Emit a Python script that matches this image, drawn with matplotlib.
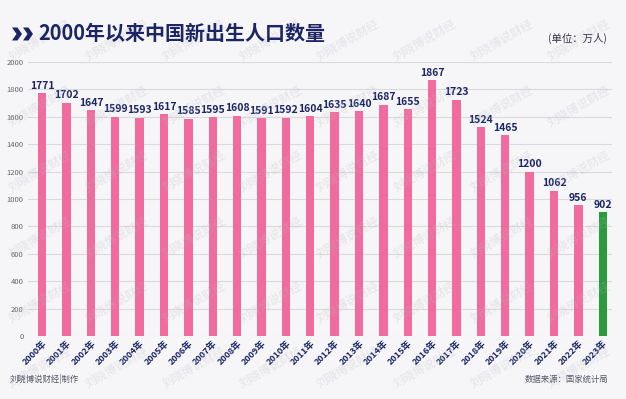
import matplotlib
matplotlib.use("Agg")
import matplotlib.pyplot as plt
from matplotlib.patches import Polygon
import numpy as np

years = [f"{y}年" for y in range(2000, 2024)]
births = [1771, 1702, 1647, 1599, 1593, 1617, 1585, 1595, 1608, 1591, 1592, 1604,
          1635, 1640, 1687, 1655, 1867, 1723, 1524, 1465, 1200, 1062, 956, 902]
yticks = list(range(0, 2001, 200))

title = "2000年以来中国新出生人口数量"
unit = "(单位：万人)"
footer_left = "刘晓博说财经|制作"
footer_right = "数据来源：国家统计局"
watermark = "刘晓博说财经"

plt.rcParams['font.family'] = ['Noto Sans CJK SC', 'DejaVu Sans']

navy = "#1c2566"
pink = "#f26b9e"
green = "#2a9a3a"
bg = "#f6f6f8"

W, H = 626, 399
fig = plt.figure(figsize=(6.26, 3.99), dpi=100, facecolor=bg)

# watermarks (kept inside the figure)
xs = np.linspace(0.01, 0.87, 8)
ys = np.linspace(0.02, 0.84, 6)
for r, fy in enumerate(ys):
    for c, fx in enumerate(xs):
        fig.text(fx, fy, watermark, fontsize=8.5, color="#b8b8c4", alpha=0.3,
                 rotation=30, ha='left', va='bottom', zorder=0)

ax = fig.add_axes([28/W, 1-336/H, (612-28)/W, (336-62)/H])
ax.patch.set_alpha(0)

x = np.arange(len(births))
colors = [pink]*(len(births)-1) + [green]
ax.bar(x, births, width=0.34, color=colors, zorder=3)

for xi, v in zip(x, births):
    ax.text(xi, v + 18, str(v), ha='center', va='bottom', fontsize=7.5,
            fontweight='bold', color=navy, zorder=4)

ax.set_xlim(-0.58, 23.38)
ax.set_ylim(0, 2000)
ax.set_yticks(yticks)
ax.set_yticklabels([str(t) for t in yticks], fontsize=5.5, color="#666666")
ax.set_xticks(x)
ax.set_xticklabels(years, rotation=45, ha='right', va='top', rotation_mode='anchor',
                   fontsize=6.5, fontweight='bold', color=navy)
ax.tick_params(axis='both', length=0, pad=2)
ax.tick_params(axis='y', pad=3)
ax.grid(axis='y', color="#d9d9de", linewidth=0.8, zorder=0)
for s in ax.spines.values():
    s.set_visible(False)

# title chevron icon (two filled chevrons)
def chevron(x0, yc, w=10, h=13, t=5.5):
    pts = [(x0, yc + h/2), (x0 + t, yc + h/2), (x0 + w, yc),
           (x0 + t, yc - h/2), (x0, yc - h/2), (x0 + w - t, yc)]
    return Polygon([(px / W, 1 - py / H) for px, py in pts], closed=True,
                   transform=fig.transFigure, facecolor=navy, edgecolor='none')

fig.patches.append(chevron(12, 34))
fig.patches.append(chevron(23, 34))

fig.text(38/W, 1-34/H, title, fontsize=14.4, fontweight='bold', color=navy,
         ha='left', va='center')
fig.text(607/W, 1-38/H, unit, fontsize=7.5, color="#333344",
         ha='right', va='center')
fig.text(10/W, 1-379/H, footer_left, fontsize=6, color="#555566",
         ha='left', va='center')
fig.text(608/W, 1-379/H, footer_right, fontsize=6, color="#555566",
         ha='right', va='center')

fig.savefig("out.png", dpi=100, facecolor=bg)
